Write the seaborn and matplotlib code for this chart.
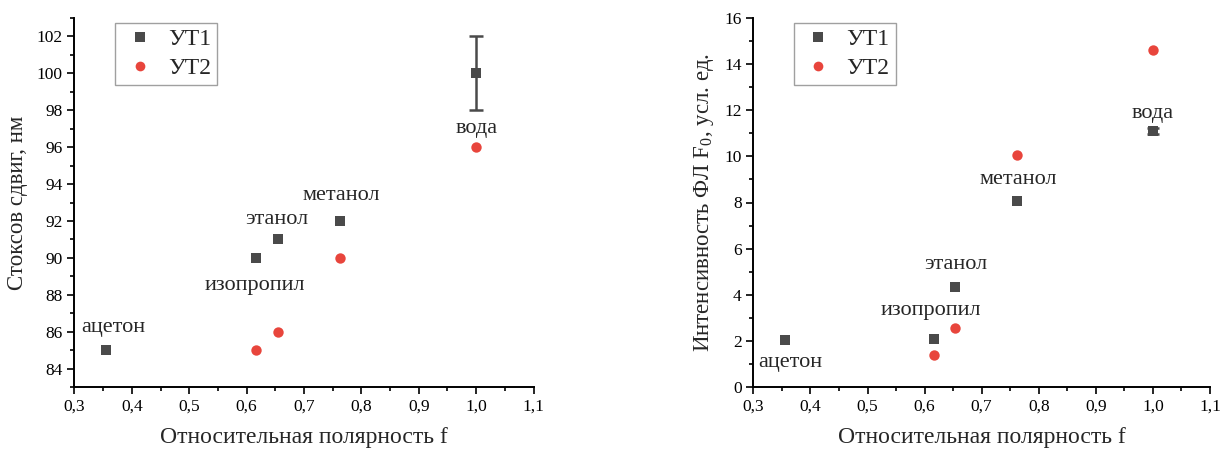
import matplotlib
matplotlib.use("Agg")
import matplotlib.pyplot as plt
import seaborn as sns
import pandas as pd
import numpy as np
from matplotlib.ticker import MultipleLocator, FuncFormatter
from matplotlib.lines import Line2D

sns.set_theme(style="ticks")
plt.rcParams['font.family'] = ['Liberation Serif', 'DejaVu Serif']
plt.rcParams['mathtext.fontset'] = 'custom'
plt.rcParams['mathtext.rm'] = 'Liberation Serif'

# ---- data ----
solvents = ["ацетон", "изопропил", "этанол", "метанол", "вода"]
polarity = [0.355, 0.617, 0.654, 0.762, 1.0]

stokes_ut1 = [85, 90, 91, 92, 100]
stokes_ut1_err = [0, 0, 0, 0, 2]
stokes_ut2 = [np.nan, 85, 86, 90, 96]

intens_ut1 = [2.05, 2.1, 4.35, 8.05, 11.1]
intens_ut1_err = [0, 0, 0, 0, 0.15]
intens_ut2 = [np.nan, 1.4, 2.55, 10.05, 14.6]

series_names = ["УТ1", "УТ2"]

# label positions (data coords)
left_label_xy = [(0.368, 86.2), (0.615, 88.5), (0.652, 92.1), (0.764, 93.4), (1.0, 97.0)]
right_label_xy = [(0.364, 1.05), (0.611, 3.3), (0.654, 5.3), (0.764, 9.0), (1.0, 11.85)]

c_ut1 = "#4a4a4a"
c_ut2 = "#e8453c"
palette = {"УТ1": c_ut1, "УТ2": c_ut2}
markers = {"УТ1": "s", "УТ2": "o"}
sizes = {"УТ1": 46, "УТ2": 56}

fig = plt.figure(figsize=(12.21, 4.5), dpi=100)
ax1 = fig.add_axes([0.061, 0.14, 0.376, 0.82])
ax2 = fig.add_axes([0.617, 0.14, 0.374, 0.82])

def make_df(ut1, ut2):
    return pd.DataFrame({
        "f": polarity + polarity,
        "v": list(ut1) + list(ut2),
        "s": [series_names[0]] * len(polarity) + [series_names[1]] * len(polarity),
    }).dropna()

def panel(ax, ut1, ut1err, ut2, ylim, ystep, yminor, ylabel, labels_xy, yfmt, capsize):
    df = make_df(ut1, ut2)
    err = np.asarray(ut1err, dtype=float)
    m = err > 0
    ax.errorbar(np.asarray(polarity)[m], np.asarray(ut1, dtype=float)[m], yerr=err[m],
                fmt="none", ecolor=c_ut1, elinewidth=1.8, capsize=capsize, capthick=1.8, zorder=2)
    for name in series_names:
        sub = df[df["s"] == name]
        sns.scatterplot(data=sub, x="f", y="v", color=palette[name], marker=markers[name],
                        s=sizes[name], linewidth=0, ax=ax, legend=False, zorder=3)
    for name, (x, y) in zip(solvents, labels_xy):
        ax.text(x, y, name, ha="center", va="center", fontsize=16)
    ax.set_xlim(0.3, 1.1)
    ax.set_ylim(*ylim)
    ax.xaxis.set_major_locator(MultipleLocator(0.1))
    ax.xaxis.set_minor_locator(MultipleLocator(0.05))
    ax.yaxis.set_major_locator(MultipleLocator(ystep))
    ax.yaxis.set_minor_locator(MultipleLocator(yminor))
    ax.xaxis.set_major_formatter(FuncFormatter(lambda v, p: f"{v:.1f}".replace(".", ",")))
    ax.yaxis.set_major_formatter(FuncFormatter(yfmt))
    ax.tick_params(axis="both", which="major", direction="out", length=5, width=1.2,
                   labelsize=12.5, color="black", labelcolor="black")
    ax.tick_params(axis="both", which="minor", direction="out", length=3, width=1.2, color="black")
    for side in ["top", "right"]:
        ax.spines[side].set_visible(False)
    for side in ["left", "bottom"]:
        ax.spines[side].set_linewidth(1.4)
        ax.spines[side].set_color("black")
    ax.set_xlabel("Относительная полярность f", fontsize=17, labelpad=9)
    ax.set_ylabel(ylabel, fontsize=16.5, labelpad=6)
    handles = [Line2D([], [], linestyle="none", marker=markers[n], color=palette[n],
                      markersize=6.5 if n == "УТ1" else 7, markeredgewidth=0) for n in series_names]
    leg = ax.legend(handles, series_names, loc="upper left", bbox_to_anchor=(0.088, 0.987),
                    fontsize=17, frameon=True, fancybox=False, edgecolor="#888888",
                    handletextpad=0.4, borderpad=0.25, labelspacing=0.3, handlelength=1.6,
                    borderaxespad=0)
    leg.get_frame().set_linewidth(1.0)

panel(ax1, stokes_ut1, stokes_ut1_err, stokes_ut2, (83, 103), 2, 1,
      "Стоксов сдвиг, нм", left_label_xy, lambda v, p: f"{v:.0f}", 5)
panel(ax2, intens_ut1, intens_ut1_err, intens_ut2, (0, 16), 2, 1,
      "Интенсивность ФЛ F$_\\mathregular{0}$, усл. ед.", right_label_xy, lambda v, p: f"{v:.0f}", 4)

fig.savefig("out.png", dpi=100, facecolor="white")
